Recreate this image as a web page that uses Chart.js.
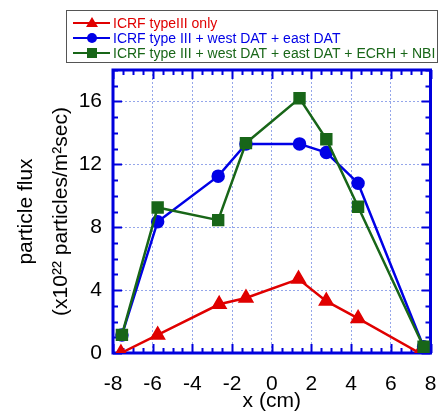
<!DOCTYPE html>
<html>
<head>
<meta charset="utf-8">
<script src="https://cdn.jsdelivr.net/npm/chart.js@4"></script>
<style>
  html, body { margin: 0; padding: 0; background: #fff; }
  #wrap { width: 440px; height: 412px; position: relative; }
</style>
</head>
<body>
<div id="wrap"><canvas id="fluxChart"></canvas></div>
<script>
// values
const seriesNames = [
	'ICRF typeIII only',
	'ICRF type III + west DAT + east DAT',
	'ICRF type III + west DAT + east DAT + ECRH + NBI'
];
const xRed   = [-7.6, -5.75, -2.65, -1.3, 1.35, 2.75, 4.35, 7.45];
const yRed   = [0, 1.15, 3.1, 3.5, 4.7, 3.3, 2.2, 0];
const xBlue  = [-7.55, -5.75, -2.7, -1.3, 1.4, 2.75, 4.35, 7.65];
const yBlue  = [1.15, 8.35, 11.25, 13.3, 13.3, 12.75, 10.8, 0.4];
const xGreen = [-7.55, -5.75, -2.7, -1.3, 1.4, 2.75, 4.35, 7.65];
const yGreen = [1.15, 9.25, 8.45, 13.35, 16.2, 13.6, 9.3, 0.4];
const xTicks = [-8, -6, -4, -2, 0, 2, 4, 6, 8];
const yTicks = [0, 4, 8, 12, 16];

const red = '#e00000', blue = '#0000e6', green = '#186618', frame = '#0000dd';

function pts(xs, ys) {
	return xs.map(function (x, i) { return { x: x, y: ys[i] }; });
}

// inside ticks, mirrored frame and the boxed legend
const decor = {
	id: 'decor',
	beforeDatasetsDraw: function (chart) {
		const c = chart.ctx, a = chart.chartArea;
		const xs = chart.scales.x, ys = chart.scales.y;
		c.save();
		c.strokeStyle = frame;
		c.lineWidth = 2;
		c.beginPath();
		for (let v = -8; v <= 8.001; v += 0.5) {
			const px = Math.round(xs.getPixelForValue(v)) + 0.5;
			const len = (Math.abs(v % 2) < 0.01) ? 9 : 5;
			c.moveTo(px, a.bottom); c.lineTo(px, a.bottom - len);
			c.moveTo(px, a.top); c.lineTo(px, a.top + len);
		}
		for (let v = 0; v <= 18; v += 1) {
			const py = Math.round(ys.getPixelForValue(v)) + 0.5;
			const len = (v % 4 === 0) ? 9 : 5;
			c.moveTo(a.left, py); c.lineTo(a.left + len, py);
			c.moveTo(a.right, py); c.lineTo(a.right - len, py);
		}
		c.stroke();
		c.lineWidth = 3;
		c.strokeRect(a.left, a.top, a.right - a.left, a.bottom - a.top);
		c.restore();
	},
	afterDraw: function (chart) {
		const c = chart.ctx;
		c.save();
		c.fillStyle = '#fff';
		c.fillRect(66, 10, 371, 52);
		c.strokeStyle = '#555';
		c.lineWidth = 1;
		c.strokeRect(66.5, 10.5, 371, 52);
		const rows = [23, 38, 53];
		const cols = [red, blue, green];
		const shapes = ['triangle', 'circle', 'rect'];
		c.font = '14px Arial, "Liberation Sans", sans-serif';
		c.textBaseline = 'middle';
		rows.forEach(function (y, i) {
			c.strokeStyle = cols[i];
			c.fillStyle = cols[i];
			c.lineWidth = 2;
			c.beginPath(); c.moveTo(73, y); c.lineTo(110, y); c.stroke();
			c.beginPath();
			if (shapes[i] === 'triangle') {
				c.moveTo(92, y - 6); c.lineTo(98, y + 4); c.lineTo(86, y + 4);
			} else if (shapes[i] === 'circle') {
				c.arc(92, y, 5, 0, Math.PI * 2);
			} else {
				c.rect(87, y - 5, 10, 10);
			}
			c.fill();
			c.fillText(seriesNames[i], 113, y + 1);
		});
		c.restore();
	}
};

const ctx = document.getElementById('fluxChart');
const fluxChart = new Chart(ctx, {
	type: 'scatter',
	data: {
		datasets: [
			{ label: seriesNames[2], data: pts(xGreen, yGreen), showLine: true,
			  borderColor: green, backgroundColor: green, borderWidth: 2.5,
			  pointStyle: 'rect', pointRadius: 7, pointHoverRadius: 7 },
			{ label: seriesNames[1], data: pts(xBlue, yBlue), showLine: true,
			  borderColor: blue, backgroundColor: blue, borderWidth: 2.5,
			  pointStyle: 'circle', pointRadius: 5.5, pointHoverRadius: 5.5 },
			{ label: seriesNames[0], data: pts(xRed, yRed), showLine: true,
			  borderColor: red, backgroundColor: red, borderWidth: 2.5,
			  pointStyle: 'triangle', pointRadius: 7, pointHoverRadius: 7 }
		]
	},
	options: {
		responsive: true,
		maintainAspectRatio: false,
		animation: false,
		layout: { padding: { top: 70, right: 7, left: 0, bottom: 0 } },
		plugins: { legend: { display: false }, tooltip: { enabled: false } },
		scales: {
			x: {
				type: 'linear', min: -8, max: 8,
				afterBuildTicks: function (s) { s.ticks = xTicks.map(function (v) { return { value: v }; }); },
				afterFit: function (s) { s.height = 59; s.paddingLeft = 0; s.paddingRight = 0; },
				border: { display: false, dash: [2, 2] },
				grid: {
					color: function (c) { return (c.tick.value === -8 || c.tick.value === 8) ? 'rgba(0,0,0,0)' : '#95a6ea'; },
					lineWidth: 1, drawTicks: false
				},
				ticks: { color: '#000', padding: 19, font: { family: 'Arial, "Liberation Sans"', size: 21 }, maxRotation: 0 },
				title: { display: true, text: 'x (cm)', color: '#000', padding: { top: 0, bottom: 0 },
					font: { family: 'Arial, "Liberation Sans"', size: 21, lineHeight: 1.0 } }
			},
			y: {
				type: 'linear', min: 0, max: 18,
				afterBuildTicks: function (s) { s.ticks = yTicks.map(function (v) { return { value: v }; }); },
				afterFit: function (s) { s.width = 113; s.paddingTop = 0; s.paddingBottom = 0; },
				border: { display: false, dash: [2, 2] },
				grid: {
					color: function (c) { return c.tick.value === 0 ? 'rgba(0,0,0,0)' : '#95a6ea'; },
					lineWidth: 1, drawTicks: false
				},
				ticks: { color: '#000', padding: 11, font: { family: 'Arial, "Liberation Sans"', size: 21 } },
				title: { display: true, text: ['particle flux', '(x10\u00b2\u00b2 particles/m\u00b2sec)'], color: '#000',
					padding: { top: 9, bottom: 2 },
					font: { family: 'Arial, "Liberation Sans"', size: 21, lineHeight: 1.65 } }
			}
		}
	},
	plugins: [decor]
});
</script>
</body>
</html>
